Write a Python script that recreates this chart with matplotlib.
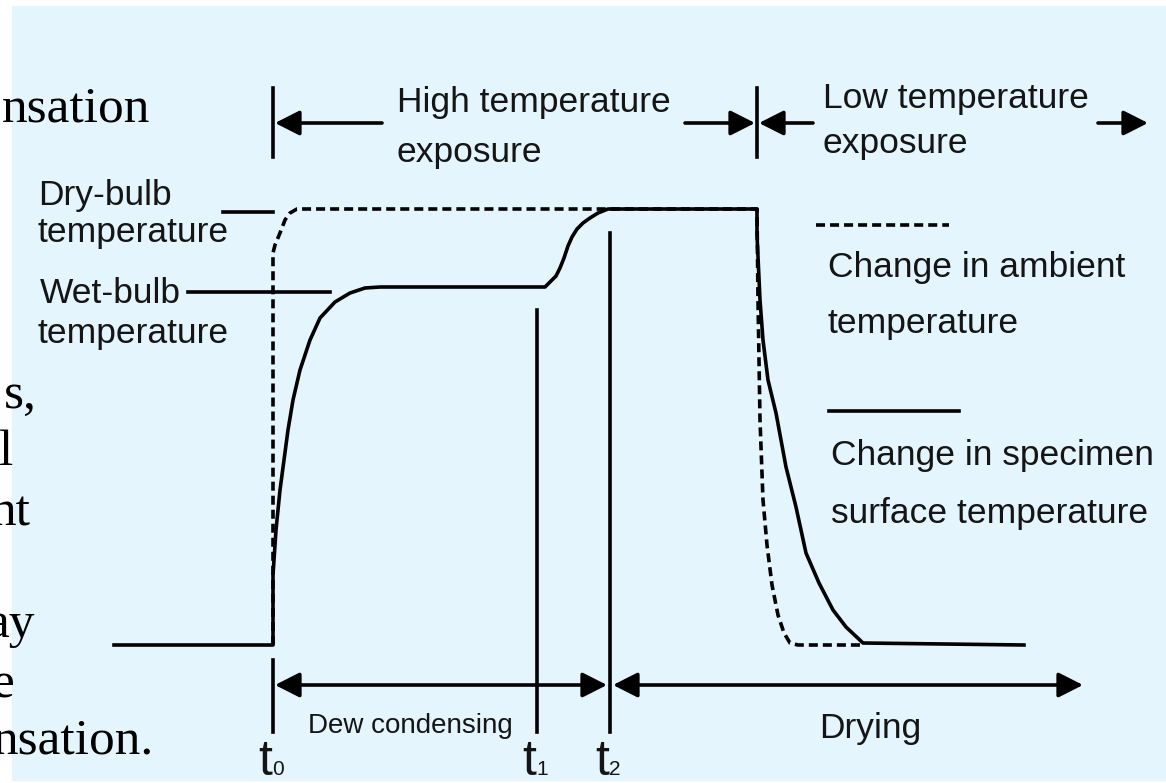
import matplotlib
matplotlib.use("Agg")
import matplotlib.pyplot as plt
from matplotlib.patches import Rectangle

plt.rcParams['lines.scale_dashes'] = False

W, H = 1166, 783
BG = '#e4f5fd'
SANS = ['Liberation Sans', 'DejaVu Sans']
SERIF = ['Liberation Serif', 'DejaVu Serif']

# specimen surface temperature (solid) - time position / temperature level (px from top)
surf_t = [114, 273, 273, 276, 280, 284, 288, 293, 300, 310, 320, 335, 350, 365, 380,
          545, 550, 556, 560, 564, 568, 572, 577, 583, 590, 598, 608,
          757, 757, 760, 763, 768, 776, 786, 796, 806, 819, 833, 846, 863, 1024]
surf_T = [645, 645, 575, 530, 490, 460, 430, 400, 370, 340, 318, 302, 293, 288, 287,
          287, 282, 276, 268, 258, 246, 237, 229, 223, 218, 213, 209,
          209, 235, 300, 340, 380, 413, 467, 507, 553, 583, 610, 627, 643, 645]

# ambient temperature (dashed)
amb_t = [273, 273, 275, 280, 285, 290, 297, 757, 758, 760, 763, 767, 772, 778, 784, 790, 798, 863]
amb_T = [645, 253, 245, 233, 220, 213, 209, 209, 300, 420, 500, 545, 585, 615, 633, 643, 645, 645]

# time marks
t_marks = [273, 537, 610]
t_names = ['0', '1', '2']
t_tops = [660, 310, 233]
phase_end = 757

# left slide text fragments (cut off by the image edge)
side_text = ['nsation', 's,', 'l', 'nt', 'ay', 'e', 'nsation.']
side_base = [122, 408, 465, 525, 637, 697, 753]
side_right = [150, 37, 13, 31, 35, 15, 154]

fig = plt.figure(figsize=(W / 100, H / 100), dpi=100)
ax = fig.add_axes([0, 0, 1, 1])
ax.set_xlim(0, W)
ax.set_ylim(H, 0)
ax.axis('off')

ax.add_patch(Rectangle((12, 6), W - 12, H - 9, color=BG, zorder=0))

lw = 2.6
dash = (0, (6.5, 3.6))

# curves
ax.plot(amb_t, amb_T, color='k', lw=lw, ls=dash, zorder=3)
ax.plot(surf_t, surf_T, color='k', lw=lw, zorder=4)

# label leader lines
ax.plot([223, 273], [212, 212], color='k', lw=lw)
ax.plot([188, 330], [292, 292], color='k', lw=lw)

# vertical time markers
for x, top in zip(t_marks, t_tops):
    ax.plot([x, x], [top, 732], color='k', lw=lw)
for x in [t_marks[0], phase_end]:
    ax.plot([x, x], [88, 157], color='k', lw=lw)


def arrow(x0, x1, y, style):
    ax.annotate('', xy=(x1, y), xytext=(x0, y),
                arrowprops=dict(arrowstyle=style + ',head_length=0.75,head_width=0.38',
                                mutation_scale=20, lw=lw, color='k',
                                shrinkA=0, shrinkB=0))


# top phase arrows
arrow(382, 275, 123, '-|>')
arrow(685, 755, 123, '-|>')
arrow(813, 759, 123, '-|>')
arrow(1098, 1148, 123, '-|>')
# bottom arrows
arrow(275, 607, 685, '<|-|>')
arrow(613, 1083, 685, '<|-|>')

# legend samples
ax.plot([816, 949], [225, 225], color='k', lw=lw, ls=dash)
ax.plot([829, 959], [411, 411], color='k', lw=lw)

fs = 25.5
txt_col = '#151515'
labels = [
    ('Dry-bulb', 38, 205), ('temperature', 38, 242),
    ('Wet-bulb', 40, 303), ('temperature', 38, 343),
    ('High temperature', 397, 112), ('exposure', 396, 162),
    ('Low temperature', 823, 108), ('exposure', 823, 153),
    ('Change in ambient', 828, 277), ('temperature', 828, 333),
    ('Change in specimen', 831, 465), ('surface temperature', 831, 523),
    ('Drying', 819, 738),
]
for s, x, y in labels:
    ax.text(x, y, s, family=SANS, fontsize=fs, va='baseline', ha='left', color=txt_col)
ax.text(308, 733, 'Dew condensing', family=SANS, fontsize=20, va='baseline', ha='left', color=txt_col)

# t0, t1, t2
for x, n in zip(t_marks, t_names):
    ax.text(x - 15, 775, 't', family=SANS, fontsize=36, va='baseline', ha='left', color=txt_col)
    ax.text(x - 1, 775, n, family=SANS, fontsize=15, va='baseline', ha='left', color=txt_col)

for s, y, xr in zip(side_text, side_base, side_right):
    ax.text(xr, y, s, family=SERIF, fontsize=37, va='baseline', ha='right', color='k')

fig.savefig('out.png', dpi=100, facecolor='white')
